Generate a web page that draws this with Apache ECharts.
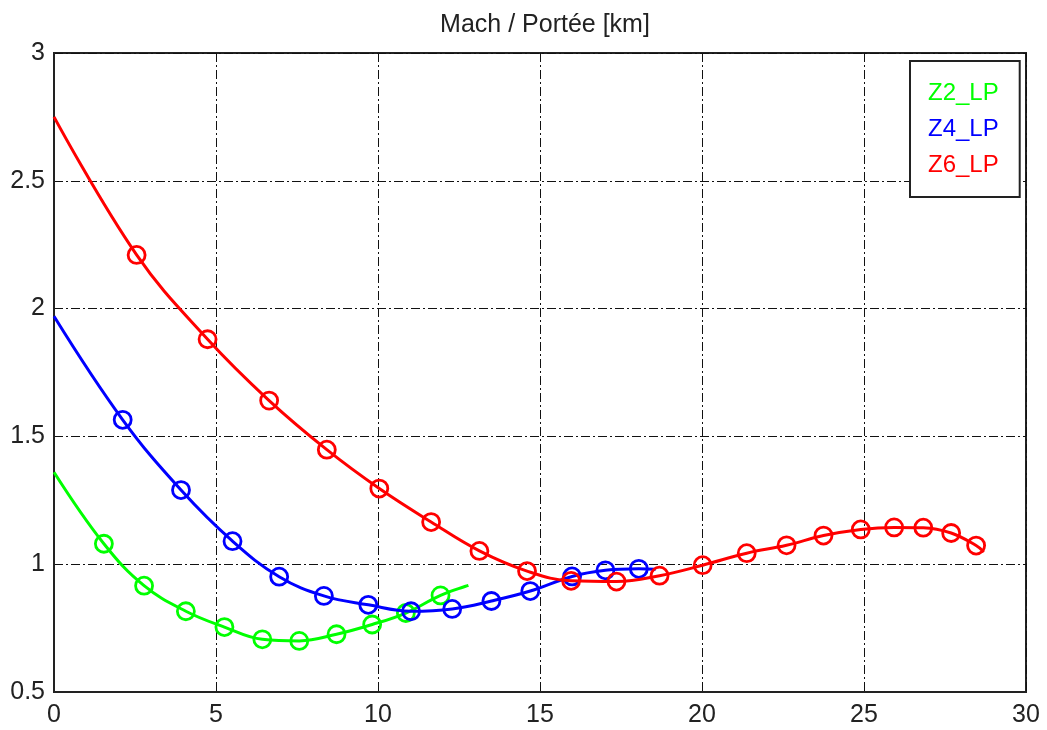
<!DOCTYPE html>
<html>
<head>
<meta charset="utf-8">
<script src="https://cdn.jsdelivr.net/npm/echarts@6/dist/echarts.min.js"></script>
<style>html,body{margin:0;padding:0;background:#fff;}#c{width:1047px;height:730px;}</style>
</head>
<body>
<div id="c"></div>
<script>
const xTicks = [0, 5, 10, 15, 20, 25, 30];
const yTicks = [0.5, 1, 1.5, 2, 2.5, 3];
const seriesNames = ['Z2_LP', 'Z4_LP', 'Z6_LP'];

// Z2_LP: line start/end and marker points (range km, Mach)
const z2Start = [0, 1.36];
const z2End = [12.79, 0.917];
const z2Km = [1.54, 2.78, 4.07, 5.26, 6.43, 7.57, 8.72, 9.82, 10.86, 11.93];
const z2Mach = [1.08, 0.916, 0.816, 0.754, 0.706, 0.700, 0.726, 0.764, 0.809, 0.878];

// Z4_LP
const z4Start = [0, 1.97];
const z4End = [18.57, 0.98];
const z4Km = [2.12, 3.92, 5.51, 6.95, 8.33, 9.70, 11.02, 12.29, 13.5, 14.7, 15.99, 17.02, 18.05];
const z4Mach = [1.565, 1.29, 1.09, 0.951, 0.876, 0.841, 0.816, 0.825, 0.856, 0.895, 0.952, 0.976, 0.982];

// Z6_LP
const z6Start = [0, 2.75];
const z6End = [28.7, 1.048];
const z6Km = [2.55, 4.74, 6.64, 8.42, 10.04, 11.64, 13.13, 14.6, 15.96, 17.36, 18.69, 20.02, 21.38, 22.61, 23.75, 24.9, 25.93, 26.83, 27.69, 28.46];
const z6Mach = [2.21, 1.88, 1.64, 1.448, 1.296, 1.165, 1.052, 0.973, 0.935, 0.932, 0.955, 0.996, 1.043, 1.074, 1.112, 1.136, 1.144, 1.143, 1.122, 1.073];

const colors = ['#00ff00', '#0000ff', '#ff0000'];
const FONT = 'Liberation Sans, Arial, sans-serif';

function buildData(start, km, mach, end) {
  const d = [{ value: start, symbol: 'none' }];
  for (let i = 0; i < km.length; i++) d.push({ value: [km[i], mach[i]] });
  d.push({ value: end, symbol: 'none' });
  return d;
}

const allData = [
  buildData(z2Start, z2Km, z2Mach, z2End),
  buildData(z4Start, z4Km, z4Mach, z4End),
  buildData(z6Start, z6Km, z6Mach, z6End)
];

const gridLine = { show: true, lineStyle: { color: '#111', width: 1, type: [9, 3, 2, 3] } };

const chart = echarts.init(document.getElementById('c'), null, { renderer: 'canvas' });
chart.setOption({
  backgroundColor: '#fff',
  animation: false,
  title: {
    text: 'Mach / Portée [km]',
    left: 540, textAlign: 'center', top: 8,
    textStyle: { fontFamily: FONT, fontSize: 25, fontWeight: 'normal', color: '#222' }
  },
  legend: {
    orient: 'vertical',
    left: 910, top: 61,
    icon: 'none',
    itemWidth: 0, itemHeight: 22, itemGap: 12,
    padding: [20, 21, 20, 13],
    borderColor: '#222', borderWidth: 2,
    backgroundColor: '#fff',
    selectedMode: false,
    textStyle: { fontFamily: FONT, fontSize: 24, lineHeight: 22 },
    data: seriesNames.map((n, i) => ({ name: n, textStyle: { color: colors[i] } }))
  },
  grid: {
    left: 54, right: 21, top: 53, bottom: 38,
    show: true, borderColor: '#222', borderWidth: 2, containLabel: false
  },
  xAxis: {
    type: 'value', min: xTicks[0], max: xTicks[xTicks.length - 1], interval: 5,
    axisLine: { show: true, onZero: false, lineStyle: { color: '#222', width: 2 } },
    axisTick: { show: false },
    axisLabel: { fontFamily: FONT, fontSize: 25, color: '#222', margin: 11 },
    splitLine: gridLine
  },
  yAxis: {
    type: 'value', min: yTicks[0], max: yTicks[yTicks.length - 1], interval: 0.5,
    axisLine: { show: true, onZero: false, lineStyle: { color: '#222', width: 2 } },
    axisTick: { show: false },
    axisLabel: { fontFamily: FONT, fontSize: 25, color: '#222', margin: 9 },
    splitLine: gridLine
  },
  series: seriesNames.map((n, i) => ({
    name: n, type: 'line', smooth: 0.4,
    data: allData[i],
    symbol: 'circle', symbolSize: 17,
    lineStyle: { color: colors[i], width: 3 },
    itemStyle: { color: 'rgba(0,0,0,0)', borderColor: colors[i], borderWidth: 2.8 },
    z: 3 + i
  }))
});
</script>
</body>
</html>
